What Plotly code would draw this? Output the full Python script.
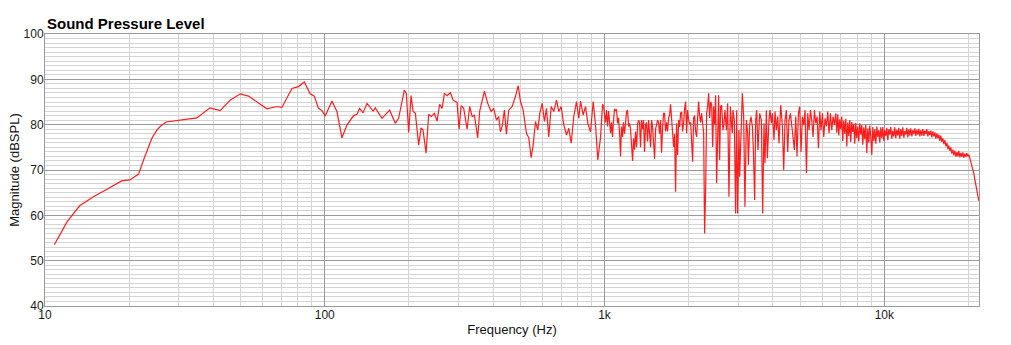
import plotly.graph_objects as go

# ---- data (frequency in Hz, level in dB SPL) ----
freq_low = [10.8, 12.0, 13.3, 14.9, 16.6, 18.8, 20.1, 21.6, 22.5, 24.1, 25.1, 25.8, 27.1, 30.0,
            34.9, 38.9, 42.3, 45.9, 49.9, 53.4, 57.2, 62.1, 67.5, 70.3, 76.3, 80.6, 84.5, 88.7,
            91.7, 95.0, 97.7, 100.4, 106.1]
spl_low = [53.5, 58.6, 62.1, 64.1, 65.7, 67.6, 67.8, 69.1, 72.2, 77.0, 78.8, 79.6, 80.6, 80.9,
           81.5, 83.7, 83.1, 85.4, 86.8, 86.3, 85.1, 83.5, 84.0, 83.8, 88.0, 88.4, 89.4, 86.8,
           86.3, 83.6, 83.1, 81.9, 85.2]

freq_mid = [110.5, 115.2, 120.0, 126.8, 130.4, 133.2, 137.0, 141.6, 148.8, 151.6, 160.2, 170.6,
            178.7, 183.6, 192.5, 195.7, 199.5, 203.5, 206.9, 210.8, 216.6, 220.9, 224.5, 230.2,
            235.2, 240.5, 246.5, 252.0, 257.5, 262.7, 267.7, 273.7, 281.2, 287.5, 297.1, 302.1,
            307.2, 313.8, 322.7, 329.7, 336.3, 342.7, 352.2, 358.0, 372.1, 382.4, 393.3, 401.8,
            410.8, 418.7, 424.5, 430.5, 438.7, 446.0, 454.6, 467.5, 480.4, 491.2, 500.6, 511.8,
            526.0, 536.0, 546.8, 555.8, 566.5, 577.4, 586.9, 598.5, 610.0, 620.1, 632.0, 644.6,
            658.6, 673.4, 686.3, 700.0, 715.2, 731.3, 745.3, 760.1, 776.3, 794.0, 809.2, 820.6,
            839.0, 855.2, 871.6, 891.1, 911.0, 928.6, 946.4]
spl_mid = [82.9, 77.1, 79.9, 82.0, 82.3, 83.6, 82.6, 84.7, 83.0, 83.7, 81.4, 83.2, 80.3, 81.4,
           87.6, 86.9, 78.3, 86.4, 82.9, 82.5, 75.5, 79.3, 78.8, 73.7, 82.3, 81.8, 82.5, 80.8,
           84.5, 83.6, 86.9, 86.4, 87.1, 85.4, 84.9, 79.0, 84.2, 83.6, 79.0, 84.0, 81.8, 82.1,
           77.1, 83.0, 87.4, 84.7, 82.9, 83.6, 81.0, 81.8, 78.4, 79.6, 83.2, 77.9, 83.2, 84.0,
           86.2, 88.6, 85.1, 83.2, 78.1, 77.1, 72.7, 75.5, 80.7, 78.8, 82.5, 84.7, 80.7, 83.6,
           77.3, 84.0, 82.9, 85.4, 82.9, 84.0, 79.9, 77.7, 79.2, 75.9, 81.8, 85.1, 81.4, 85.2,
           82.1, 84.0, 80.3, 78.4, 85.1, 79.9, 72.2]

freq_1k = [968, 976, 984, 992, 1000, 1008, 1017, 1025, 1034, 1042, 1051, 1059, 1068, 1077, 1086,
           1095, 1104, 1113, 1122, 1132, 1141, 1150, 1160, 1169, 1179, 1189, 1199, 1209, 1219,
           1229, 1239, 1249, 1260, 1270, 1280, 1291, 1302, 1313, 1323, 1334, 1345, 1356, 1368,
           1379, 1390, 1402, 1413, 1425, 1437, 1449, 1461, 1473, 1485, 1497, 1510, 1522, 1535,
           1548, 1560, 1573, 1586, 1599, 1613, 1626, 1639, 1653, 1667, 1680, 1694, 1708, 1722,
           1737, 1751, 1766, 1780, 1795, 1810, 1825, 1840, 1855, 1870, 1886, 1901, 1917, 1933,
           1949, 1965, 1981, 1998, 2014, 2031, 2048, 2065, 2082, 2099, 2116, 2134, 2152, 2169,
           2187, 2205, 2224, 2242, 2261, 2279, 2298, 2317, 2336, 2356, 2375, 2395, 2415, 2435,
           2455, 2475, 2495, 2516, 2537, 2558, 2579, 2600]
spl_1k = [77.3, 81.0, 84.5, 84.0, 82.0, 80.5, 83.2, 79.6, 83.0, 80.0, 78.1, 80.5, 77.3, 81.0,
          83.5, 83.0, 83.4, 80.3, 81.5, 78.0, 73.0, 79.6, 77.3, 80.5, 78.0, 80.3, 82.9, 83.2,
          79.6, 80.3, 79.0, 75.5, 72.0, 77.0, 74.5, 78.5, 75.0, 80.0, 81.0, 80.5, 75.0, 81.0,
          79.0, 81.0, 74.0, 80.0, 80.5, 76.3, 81.0, 78.0, 75.0, 81.0, 79.5, 76.0, 72.5, 79.0,
          80.5, 81.0, 80.5, 78.0, 81.0, 73.8, 79.5, 82.5, 82.5, 78.5, 80.5, 78.5, 81.5, 82.0,
          84.5, 81.0, 79.0, 75.1, 78.0, 65.2, 80.3, 73.3, 81.0, 79.5, 82.5, 82.8, 78.5, 80.3,
          83.5, 85.1, 78.1, 83.2, 81.0, 80.3, 80.5, 75.0, 71.8, 81.5, 82.0, 78.5, 77.3, 81.5,
          85.1, 82.0, 80.5, 82.5, 80.0, 78.1, 56.0, 65.5, 82.5, 84.0, 86.9, 81.5, 85.0, 84.5,
          75.1, 84.0, 80.0, 86.5, 67.1, 77.0, 86.5, 72.2, 84.0]

freq_3k = [2622, 2650, 2672, 2694, 2726, 2755, 2784, 2817, 2847, 2863, 2878, 2910, 2942, 2967,
           2991, 3024, 3041, 3074, 3109, 3143, 3176, 3213, 3248, 3267, 3302, 3338, 3376, 3404,
           3441, 3470, 3498, 3536, 3586, 3636, 3675, 3715, 3745, 3789, 3820, 3871, 3903, 3948,
           3981, 4034, 4067, 4115, 4159, 4203, 4263, 4323, 4370, 4417, 4467, 4516, 4564, 4618,
           4667, 4717, 4771, 4824, 4875, 4932, 4985, 5039, 5097, 5152, 5208, 5269, 5325, 5382,
           5445, 5503, 5563, 5627, 5688, 5751, 5816, 5879, 5941, 6010, 6075, 6141, 6212, 6279,
           6347, 6420, 6489, 6559, 6633, 6707]
spl_3k = [84.3, 78.8, 80.3, 83.2, 78.8, 84.7, 64.1, 84.0, 79.6, 78.1, 83.2, 81.0, 60.4, 83.2,
          60.4, 78.8, 68.5, 78.8, 86.9, 81.8, 61.9, 81.0, 78.1, 71.1, 79.9, 81.8, 79.6, 74.4,
          63.4, 81.0, 83.2, 74.4, 82.5, 81.0, 60.4, 80.3, 71.5, 83.2, 72.6, 81.0, 83.2, 80.3,
          82.5, 76.6, 82.9, 78.8, 81.8, 75.9, 84.3, 79.6, 70.0, 81.0, 83.2, 74.0, 81.0, 82.5,
          80.3, 77.3, 74.4, 81.8, 73.0, 82.5, 84.0, 74.0, 81.8, 79.9, 83.2, 69.3, 82.5, 78.8,
          83.2, 81.0, 77.3, 83.2, 80.3, 81.8, 74.8, 82.9, 78.8, 82.5, 77.3, 81.4, 79.6, 82.9,
          78.1, 82.5, 78.8, 81.8, 79.9, 82.5]

freq_hf = [6763, 6819, 6875, 6932, 6988, 7046, 7104, 7163, 7222, 7282, 7342, 7403, 7464, 7526,
           7588, 7651, 7714, 7778, 7842, 7907, 7972, 8038, 8105, 8172, 8240, 8308, 8377, 8446,
           8516, 8587, 8658, 8729, 8802, 8875, 8948, 9022, 9097, 9172, 9248, 9325, 9402, 9480,
           9558, 9637, 9716, 9797, 9878, 9960, 10042, 10125, 10209, 10294, 10379, 10465, 10550,
           10637, 10725, 10814, 10903, 10994, 11085, 11176, 11269, 11362, 11456, 11551, 11647,
           11743, 11840, 11938, 12037, 12137, 12237, 12338, 12440, 12543, 12647, 12752, 12857,
           12964, 13071, 13179, 13288, 13398, 13508, 13620, 13733, 13846, 13961, 14076, 14193,
           14310, 14429, 14548, 14668, 14789, 14912, 15035, 15160, 15285, 15412, 15539, 15668,
           15797, 15928, 16060, 16193, 16327, 16462, 16598, 16735, 16874, 17013, 17154, 17295,
           17438, 17583, 17728, 17875, 18023, 18172, 18322, 18474, 18627, 18780, 18936, 19093,
           19251, 19410, 19570, 19732, 19896, 20060, 20226, 20393, 20562, 20732, 20904, 21077,
           21251, 21427, 21604, 21780]
spl_hf = [78.2, 82.3, 77.6, 81.2, 79.0, 81.8, 76.4, 80.9, 78.0, 81.3, 75.2, 80.5, 77.5, 81.0,
          76.2, 80.6, 78.4, 80.2, 75.8, 80.4, 77.0, 79.6, 76.3, 80.3, 77.8, 79.9, 75.6, 79.4,
          76.8, 80.0, 73.7, 79.2, 76.0, 79.8, 77.2, 73.3, 79.5, 76.4, 79.0, 75.8, 79.6, 77.3,
          78.8, 76.0, 79.4, 77.0, 79.5, 76.4, 78.8, 77.5, 79.3, 76.6, 79.0, 77.8, 79.5, 76.9,
          78.7, 77.4, 79.4, 77.0, 78.9, 77.6, 79.3, 76.9, 79.0, 77.5, 79.4, 77.1, 78.6, 77.8,
          79.3, 77.2, 79.0, 77.6, 79.2, 77.4, 78.8, 77.9, 79.2, 77.5, 78.9, 77.8, 79.1, 77.4,
          78.8, 77.6, 79.0, 77.5, 78.7, 77.9, 79.0, 77.4, 78.6, 77.7, 78.7, 77.2, 78.5, 77.4,
          78.3, 76.9, 78.1, 77.0, 77.8, 76.4, 77.6, 76.2, 77.0, 75.7, 76.6, 75.2, 76.0, 74.6,
          75.4, 74.2, 75.0, 73.6, 74.5, 73.2, 74.3, 72.9, 74.0, 73.0, 74.2, 72.8, 73.8, 72.9,
          73.9, 72.7, 73.6, 72.9, 73.7, 73.0, 73.4, 72.6, 72.0, 71.2, 70.4, 69.2, 67.8, 66.8,
          65.6, 64.5, 63.2]

x_ticks = [10, 100, 1000, 10000]
x_tick_labels = ["10", "100", "1k", "10k"]

segments = [(freq_low, spl_low), (freq_mid, spl_mid), (freq_1k, spl_1k),
            (freq_3k, spl_3k), (freq_hf, spl_hf)]
freq, spl = [], []
for f, s in segments:
    n = min(len(f), len(s))
    if len(f) != len(s):
        print("length mismatch", len(f), len(s))
    freq += f[:n]
    spl += s[:n]

minor_x = [m * d for d in (10, 100, 1000) for m in range(2, 10)] + [20000]

MAJOR = "#9a9a9a"
MINOR = "#d4d4d4"
FONT = "Liberation Sans, Arial, Helvetica, sans-serif"

fig = go.Figure(go.Scatter(x=freq, y=spl, mode="lines",
                           line=dict(color="#ff1c1c", width=1.2),
                           hoverinfo="x+y"))

fig.update_layout(
    width=1011, height=345,
    margin=dict(l=45, r=32, t=34, b=39),
    paper_bgcolor="white", plot_bgcolor="white",
    showlegend=False,
    font=dict(family=FONT, size=12, color="#222222"),
    annotations=[dict(text="<b>Sound Pressure Level</b>", xref="paper", yref="paper",
                      x=0, y=1, xanchor="left", yanchor="bottom", showarrow=False,
                      font=dict(family=FONT, size=15, color="#000000"))],
)
fig.update_xaxes(
    type="log", range=[1, 4.3385], automargin=False,
    tickmode="array", tickvals=x_ticks, ticktext=x_tick_labels,
    ticks="", ticklabelstandoff=-2, showgrid=True, gridcolor=MAJOR, gridwidth=1,
    minor=dict(tickvals=minor_x, showgrid=True, gridcolor=MINOR, gridwidth=1, ticks=""),
    showline=True, linecolor=MAJOR, linewidth=1, mirror=True, zeroline=False,
    tickfont=dict(size=12, color="#1a1a1a"),
    title=dict(text="Frequency (Hz)", font=dict(size=13, color="#111111"), standoff=3),
)
fig.update_yaxes(
    range=[40, 100], tick0=40, dtick=10, automargin=False,
    ticks="", ticklabelstandoff=-2, showgrid=True, gridcolor=MAJOR, gridwidth=1,
    minor=dict(dtick=1, showgrid=True, gridcolor=MINOR, gridwidth=1, ticks=""),
    showline=True, linecolor=MAJOR, linewidth=1, mirror=True, zeroline=False,
    tickfont=dict(size=12, color="#1a1a1a"),
    title=dict(text="Magnitude (dBSPL)", font=dict(size=13, color="#111111"), standoff=1),
)

fig.write_html("out.html", config={"displayModeBar": False},
               post_script="document.body.style.margin='0';")
